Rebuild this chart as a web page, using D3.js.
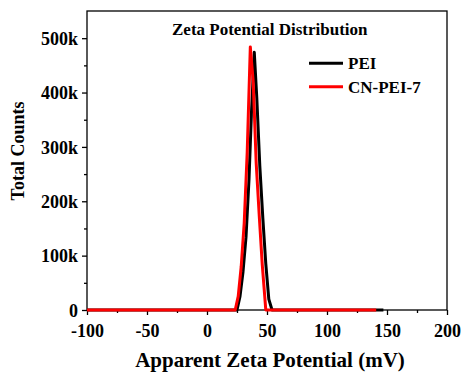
<!DOCTYPE html>
<html>
<head>
<meta charset="utf-8">
<script src="https://cdn.jsdelivr.net/npm/d3@7"></script>
<style>
  html, body { margin: 0; padding: 0; background: #fff; }
  svg { display: block; font-family: "Liberation Serif", "Times New Roman", serif; font-weight: bold; }
</style>
</head>
<body>
<svg id="chart" width="461" height="374"></svg>
<script>
// ---- data ----
const peiX      = [-100, 25, 27.5, 30, 32.5, 35, 37, 39.4, 41.5, 44, 46.5, 49, 51.5, 54.2, 147];
const peiY      = [0, 0, 25000, 70000, 134000, 240000, 360000, 474000, 390000, 265000, 170000, 85000, 20000, 0, 0];
const cnpeiX    = [-100, 23.5, 26, 28.5, 31, 33.5, 36.1, 38.5, 41, 43.5, 46, 49, 141];
const cnpeiY    = [0, 0, 25000, 80000, 160000, 290000, 484000, 420000, 270000, 175000, 85000, 0, 0];
const seriesNames = ["PEI", "CN-PEI-7"];
const seriesColors = ["#000000", "#ff0000"];
const xMajorTicks = [-100, -50, 0, 50, 100, 150, 200];
const xTickLabels = ["-100", "-50", "0", "50", "100", "150", "200"];
const xMinorTicks = [-75, -25, 25, 75, 125, 175];
const yMajorTicks = [0, 100000, 200000, 300000, 400000, 500000];
const yTickLabels = ["0", "100k", "200k", "300k", "400k", "500k"];
const yMinorTicks = [50000, 150000, 250000, 350000, 450000];
const titleText = "Zeta Potential Distribution";
const xTitle = "Apparent Zeta Potential (mV)";
const yTitle = "Total Counts";

// ---- layout ----
const L = 87, R = 447, T = 11, B = 310;
const svg = d3.select("#chart");
const x = d3.scaleLinear().domain([-100, 200]).range([L, R]);
const y = d3.scaleLinear().domain([0, 550000]).range([B, T]);

// frame
svg.append("rect").attr("x", L).attr("y", T).attr("width", R - L).attr("height", B - T)
  .attr("fill", "none").attr("stroke", "#000").attr("stroke-width", 1.3);

// axes
function styleAxis(g) {
  g.select(".domain").remove();
  g.selectAll("line").attr("stroke", "#000").attr("stroke-width", 1.3);
  g.selectAll("text").attr("font-family", "Liberation Serif").attr("font-weight", "bold")
    .attr("fill", "#000");
}
const xAxis = svg.append("g").attr("transform", `translate(0,${B})`)
  .call(d3.axisBottom(x).tickValues(xMajorTicks).tickSize(5).tickSizeOuter(0)
    .tickFormat((d, i) => xTickLabels[i]));
styleAxis(xAxis);
xAxis.selectAll("text").attr("font-size", 18).attr("y", 27).attr("dy", 0);
const xMinor = svg.append("g").attr("transform", `translate(0,${B})`)
  .call(d3.axisBottom(x).tickValues(xMinorTicks).tickSize(3).tickSizeOuter(0).tickFormat(""));
styleAxis(xMinor);

const yAxis = svg.append("g").attr("transform", `translate(${L},0)`)
  .call(d3.axisLeft(y).tickValues(yMajorTicks).tickSize(5).tickSizeOuter(0)
    .tickFormat((d, i) => yTickLabels[i]));
styleAxis(yAxis);
yAxis.selectAll("text").attr("font-size", 18).attr("x", -9).attr("dy", "0.34em");
const yMinor = svg.append("g").attr("transform", `translate(${L},0)`)
  .call(d3.axisLeft(y).tickValues(yMinorTicks).tickSize(3).tickSizeOuter(0).tickFormat(""));
styleAxis(yMinor);

// lines
const line = d3.line().x(d => x(d[0])).y(d => y(d[1]));
const series = [
  d3.zip(peiX, peiY),
  d3.zip(cnpeiX, cnpeiY)
];
series.forEach((s, i) => {
  svg.append("path").datum(s).attr("d", line)
    .attr("fill", "none").attr("stroke", seriesColors[i]).attr("stroke-width", 3)
    .attr("stroke-linejoin", "round");
});

// title
svg.append("text").attr("x", 172).attr("y", 35).attr("font-size", 17).text(titleText);

// legend
const legY = [63.3, 86.7];
seriesNames.forEach((n, i) => {
  svg.append("line").attr("x1", 309).attr("x2", 343).attr("y1", legY[i]).attr("y2", legY[i])
    .attr("stroke", seriesColors[i]).attr("stroke-width", 3);
  svg.append("text").attr("x", 348).attr("y", legY[i] + 6).attr("font-size", 17).text(n);
});

// axis titles
svg.append("text").attr("x", 270).attr("y", 367).attr("text-anchor", "middle")
  .attr("font-size", 21).text(xTitle);
svg.append("text").attr("transform", "translate(24,151) rotate(-90)")
  .attr("text-anchor", "middle").attr("font-size", 18).text(yTitle);
</script>
</body>
</html>
